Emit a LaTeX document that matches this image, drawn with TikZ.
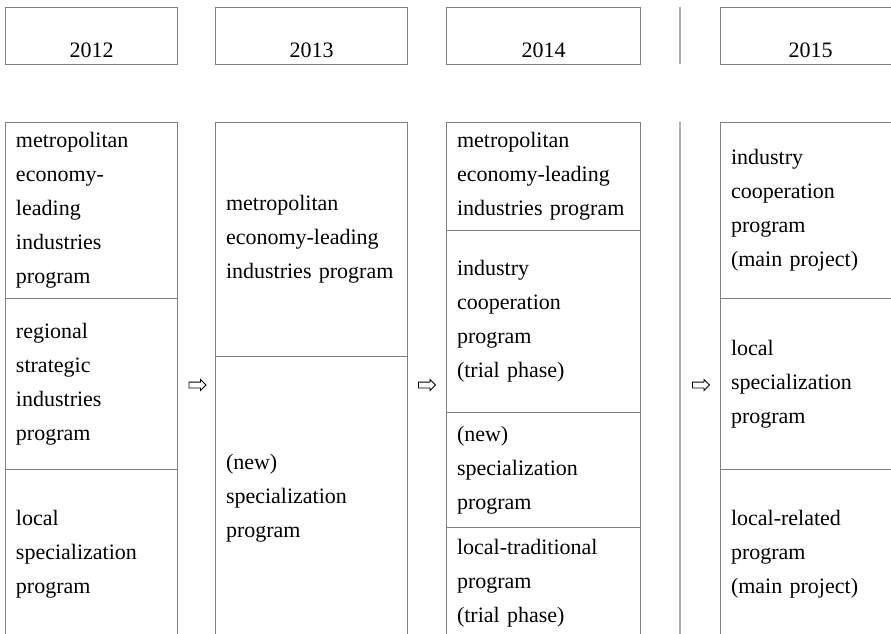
\documentclass[tikz,border=0pt]{standalone}
\usepackage{fontspec}
\setmainfont{Liberation Serif}
\usetikzlibrary{shapes.arrows}
\definecolor{boxgray}{RGB}{128,128,128}
\definecolor{sepgray}{RGB}{175,175,175}
\begin{document}
\begin{tikzpicture}[x=1pt, y=-1pt,
    cell/.style={draw=boxgray, line width=1pt, anchor=north west, inner xsep=10.5pt, inner ysep=2pt, align=left, font=\fontsize{22}{34}\selectfont},
    yearbox/.style={draw=boxgray, line width=1pt, anchor=north west, minimum height=57pt, inner ysep=0pt, text height=48pt, text depth=5pt, font=\fontsize{22}{34}\selectfont},
    turn/.style={single arrow, draw, line width=0.8pt, minimum height=17pt, inner xsep=0pt, inner ysep=2.5pt, single arrow head extend=2.5pt}]
    \clip (0,0) rectangle (891,634);
    % year headers
    \node (y2012) [yearbox, minimum width=172pt] at (5,7) {2012};
    \node (y2013) [yearbox, minimum width=192pt] at (215,7) {2013};
    \node (y2014) [yearbox, minimum width=194pt] at (446,7) {2014};
    \node (y2015) [yearbox, minimum width=180pt] at (720,7) {2015};
    % 2012
    \node (a1) [cell, text width=151pt, minimum height=176pt] at (5,122) {metropolitan\\economy-\\leading\\industries\\program};
    \node (a2) [cell, text width=151pt, minimum height=171pt] at (5,298) {regional\\strategic\\industries\\program};
    \node (a3) [cell, text width=151pt, minimum height=170pt] at (5,469) {local\\specialization\\program};
    % 2013
    \node (b1) [cell, text width=171pt, minimum height=234pt] at (215,122) {metropolitan\\economy-leading\\industries program};
    \node (b2) [cell, text width=171pt, minimum height=283pt] at (215,356) {(new)\\specialization\\program};
    % 2014
    \node (c1) [cell, text width=173pt, minimum height=108pt] at (446,122) {metropolitan\\economy-leading\\industries program};
    \node (c2) [cell, text width=173pt, minimum height=182pt] at (446,230) {industry\\cooperation\\program\\(trial phase)};
    \node (c3) [cell, text width=173pt, minimum height=115pt] at (446,412) {(new)\\specialization\\program};
    \node (c4) [cell, text width=173pt, minimum height=112pt] at (446,527) {local-traditional\\program\\(trial phase)};
    % 2015
    \node (d1) [cell, text width=159pt, minimum height=176pt] at (720,122) {industry\\cooperation\\program\\(main project)};
    \node (d2) [cell, text width=159pt, minimum height=171pt] at (720,298) {local\\specialization\\program};
    \node (d3) [cell, text width=159pt, minimum height=170pt] at (720,469) {local-related\\program\\(main project)};
    % arrows between years
    \node (arr1) [turn] at (196,385) {};
    \node (arr2) [turn] at (425.5,385) {};
    \node (arr3) [turn] at (699.5,385) {};
    % separator
    \coordinate (s1) at (680,7);
    \coordinate (s2) at (680,64);
    \coordinate (s3) at (680,122);
    \coordinate (s4) at (680,640);
    \draw[sepgray, line width=1.6pt] (s1) -- (s2);
    \draw[sepgray, line width=1.6pt] (s3) -- (s4);
\end{tikzpicture}
\end{document}
